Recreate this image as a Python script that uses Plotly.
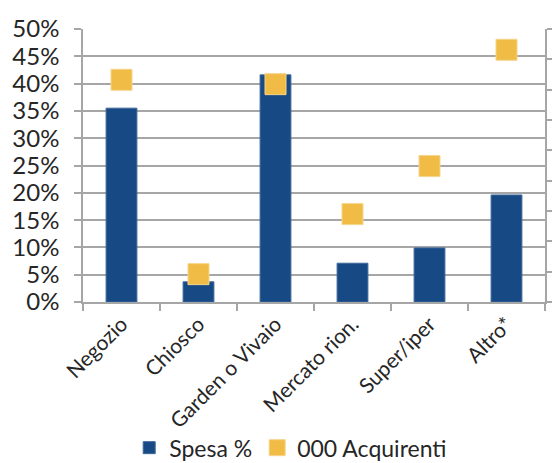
import plotly.graph_objects as go

categories = ["Negozio", "Chiosco", "Garden o Vivaio", "Mercato rion.", "Super/iper", "Altro*"]
spesa = [35.5, 3.7, 41.6, 7.1, 9.9, 19.6]
acquirenti = [40.7, 5.1, 39.9, 16.1, 24.9, 46.2]
y_ticks = [0, 5, 10, 15, 20, 25, 30, 35, 40, 45, 50]
y_labels = [f"{v}%" for v in y_ticks]

FONT = "Lato"
GRID = "#A6A6A6"

fig = go.Figure()
fig.add_trace(go.Bar(
    x=categories, y=spesa, name="Spesa %",
    marker=dict(color="#174A84", line=dict(color="#3D6799", width=1)),
    width=0.4,
))
fig.add_trace(go.Scatter(
    x=categories, y=acquirenti, name="000 Acquirenti", mode="markers",
    marker=dict(symbol="square", size=21, color="#F0BC45",
                line=dict(color="#F6D58A", width=1)),
))
# secondary axis (labels out of view in the reference)
fig.add_trace(go.Scatter(x=categories, y=[None]*6, yaxis="y2", showlegend=False,
                         hoverinfo="skip"))

fig.update_layout(
    width=552, height=463,
    margin=dict(l=83, r=7, t=29, b=161, autoexpand=False),
    paper_bgcolor="white", plot_bgcolor="white",
    font=dict(family=FONT, color="#262626"),
    showlegend=True,
    legend=dict(orientation="h", x=0.1, xanchor="left", y=-0.455, yanchor="top",
                font=dict(size=23, family=FONT), itemwidth=30, tracegroupgap=0),
    xaxis=dict(
        type="category", tickangle=-45, tickfont=dict(size=21, family=FONT),
        automargin=False,
        showline=True, linecolor=GRID, linewidth=1.5,
        ticks="outside", tickson="boundaries", ticklen=7, tickcolor=GRID, tickwidth=1.5,
        showgrid=False,
    ),
    yaxis=dict(
        range=[0, 50], tickvals=y_ticks, ticktext=y_labels,
        tickfont=dict(size=24, family=FONT), automargin=False,
        showline=True, linecolor=GRID, linewidth=1.5,
        ticks="outside", ticklen=7, tickcolor=GRID, tickwidth=1.5,
        showgrid=True, gridcolor=GRID, gridwidth=1.5,
        ticklabelstandoff=10, zeroline=False,
    ),
    yaxis2=dict(
        overlaying="y", side="right", range=[0, 9], dtick=1,
        showticklabels=False, showline=True, linecolor=GRID, linewidth=1.5,
        ticks="outside", ticklen=8, tickcolor=GRID, tickwidth=1.5,
        showgrid=False, zeroline=False, automargin=False,
    ),
    bargap=0.6,
)

fig.write_html("out.html")
